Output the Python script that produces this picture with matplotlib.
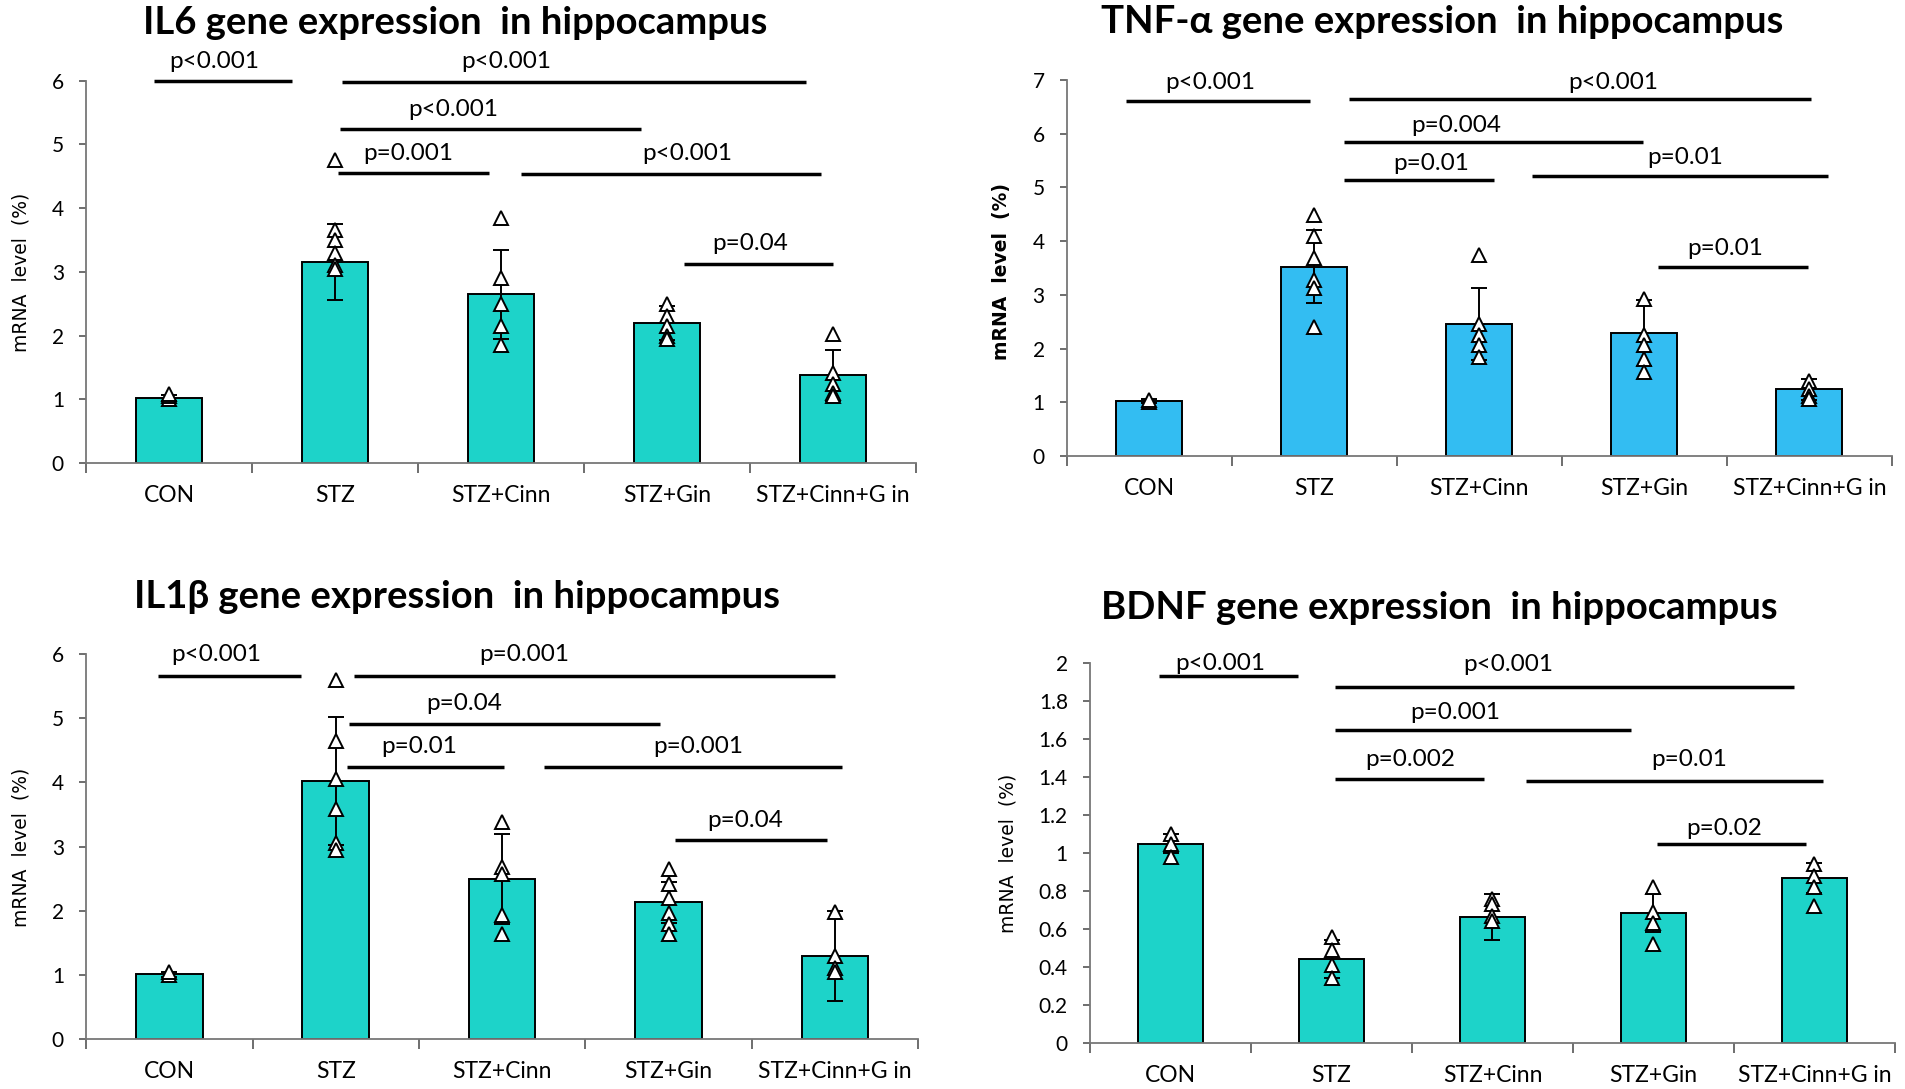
import numpy as np
import matplotlib
matplotlib.use("Agg")
import matplotlib.pyplot as plt

groups = ["CON", "STZ", "STZ+Cinn", "STZ+Gin", "STZ+Cinn+G in"]

# bar means, error (SD) and individual points per panel
il6_mean = [1.02, 3.15, 2.65, 2.20, 1.38]
il6_err = [0.04, 0.60, 0.70, 0.27, 0.40]
il6_pts = [[1.0, 1.05, 1.08], [4.75, 3.65, 3.5, 3.3, 3.1, 3.05],
           [3.85, 2.9, 2.5, 2.15, 1.85], [2.5, 2.3, 2.15, 2.0, 1.95],
           [2.03, 1.42, 1.24, 1.1, 1.05]]
# (x start, x end, y, label, label x, label y)
il6_sig = [(-0.09, 0.74, 6.0, "p<0.001", 0.27, 6.3),
           (1.04, 3.84, 5.97, "p<0.001", 2.03, 6.3),
           (1.03, 2.84, 5.24, "p<0.001", 1.71, 5.55),
           (1.02, 1.93, 4.55, "p=0.001", 1.44, 4.86),
           (2.12, 3.93, 4.54, "p<0.001", 3.12, 4.86),
           (3.10, 4.00, 3.13, "p=0.04", 3.50, 3.44)]

tnf_mean = [1.02, 3.52, 2.45, 2.29, 1.24]
tnf_err = [0.04, 0.68, 0.67, 0.62, 0.20]
tnf_pts = [[1.0, 1.05], [4.49, 4.09, 3.68, 3.28, 3.12, 2.4],
           [3.74, 2.46, 2.25, 2.06, 1.84], [2.93, 2.25, 2.06, 1.81, 1.56],
           [1.4, 1.25, 1.12, 1.06]]
tnf_sig = [(-0.14, 0.97, 6.61, "p<0.001", 0.37, 6.95),
           (1.21, 4.01, 6.64, "p<0.001", 2.81, 6.95),
           (1.18, 2.99, 5.85, "p=0.004", 1.86, 6.15),
           (1.18, 2.09, 5.13, "p=0.01", 1.71, 5.45),
           (2.32, 4.11, 5.21, "p=0.01", 3.25, 5.55),
           (3.08, 3.99, 3.51, "p=0.01", 3.49, 3.87)]

il1b_mean = [1.01, 4.02, 2.50, 2.13, 1.30]
il1b_err = [0.04, 1.00, 0.70, 0.32, 0.70]
il1b_pts = [[1.0, 1.05], [5.6, 4.64, 4.06, 3.58, 3.05, 2.94],
            [3.39, 2.68, 2.57, 1.93, 1.64], [2.65, 2.41, 2.2, 1.96, 1.8, 1.64],
            [1.98, 1.29, 1.1, 1.05]]
il1b_sig = [(-0.07, 0.79, 5.66, "p<0.001", 0.28, 6.0),
            (1.11, 4.00, 5.66, "p=0.001", 2.13, 6.0),
            (1.08, 2.95, 4.91, "p=0.04", 1.77, 5.23),
            (1.07, 2.01, 4.24, "p=0.01", 1.50, 4.56),
            (2.25, 4.04, 4.24, "p=0.001", 3.18, 4.56),
            (3.04, 3.95, 3.10, "p=0.04", 3.46, 3.41)]

bdnf_mean = [1.05, 0.44, 0.665, 0.687, 0.869]
bdnf_err = [0.05, 0.10, 0.12, 0.10, 0.08]
bdnf_pts = [[1.1, 1.05, 0.98], [0.56, 0.49, 0.41, 0.34],
            [0.76, 0.73, 0.67, 0.64], [0.82, 0.69, 0.63, 0.52],
            [0.94, 0.88, 0.82, 0.72]]
bdnf_sig = [(-0.07, 0.79, 1.93, "p<0.001", 0.31, 2.0),
            (1.02, 3.87, 1.874, "p<0.001", 2.10, 1.99),
            (1.02, 2.86, 1.65, "p=0.001", 1.77, 1.74),
            (1.02, 1.95, 1.39, "p=0.002", 1.49, 1.49),
            (2.21, 4.05, 1.38, "p=0.01", 3.22, 1.49),
            (3.02, 3.95, 1.05, "p=0.02", 3.44, 1.13)]

TEAL = "#1dd3c9"
BLUE = "#33bdf2"

plt.rcParams["font.family"] = ["Lato", "DejaVu Sans"]


def draw_panel(ax, mean, err, pts, sig, color, ymax, ystep, fmt):
    x = np.arange(len(groups))
    ax.bar(x, mean, width=0.4, color=color, edgecolor="black", linewidth=1.4, zorder=2)
    ax.errorbar(x, mean, yerr=err, fmt="none", ecolor="black", elinewidth=1.4,
                capsize=6, capthick=1.4, zorder=3)
    for i, p in enumerate(pts):
        ax.plot([i] * len(p), p, linestyle="none", marker="^", markersize=10.5,
                markerfacecolor="white", markeredgecolor="black",
                markeredgewidth=1.4, zorder=4)
    for x0, x1, y, lab, tx, ty in sig:
        ax.plot([x0, x1], [y, y], color="black", lw=2.5, clip_on=False,
                solid_capstyle="butt", zorder=5)
        ax.text(tx, ty, lab, ha="center", va="center", fontsize=17.5,
                clip_on=False)

    ax.set_xlim(-0.5, len(groups) - 0.5)
    ax.set_ylim(0, ymax)
    ticks = np.arange(0, ymax + ystep / 2, ystep)
    ax.set_yticks(ticks)
    ax.set_yticklabels([fmt(t) for t in ticks], fontsize=15)
    ax.set_xticks(x)
    ax.set_xticklabels(groups, fontsize=16.5)
    ax.set_xticks(np.arange(-0.5, len(groups)), minor=True)
    ax.tick_params(axis="x", which="major", length=0, pad=16)
    ax.tick_params(axis="x", which="minor", length=7, color="#555555", width=1.2)
    ax.tick_params(axis="y", length=5, color="#555555", width=1.2, pad=11)
    for s in ("top", "right"):
        ax.spines[s].set_visible(False)
    for s in ("left", "bottom"):
        ax.spines[s].set_color("#777777")
        ax.spines[s].set_linewidth(1.3)


fig = plt.figure(figsize=(19.06, 10.89), dpi=100)

ax1 = fig.add_axes([0.0452, 0.5748, 0.4354, 0.3512])
draw_panel(ax1, il6_mean, il6_err, il6_pts, il6_sig, TEAL, 6, 1, lambda t: f"{t:g}")
ax2 = fig.add_axes([0.5598, 0.5813, 0.4328, 0.3453])
draw_panel(ax2, tnf_mean, tnf_err, tnf_pts, tnf_sig, BLUE, 7, 1, lambda t: f"{t:g}")
ax3 = fig.add_axes([0.0452, 0.0459, 0.4365, 0.3535])
draw_panel(ax3, il1b_mean, il1b_err, il1b_pts, il1b_sig, TEAL, 6, 1, lambda t: f"{t:g}")
ax4 = fig.add_axes([0.5719, 0.0422, 0.4223, 0.3489])
draw_panel(ax4, bdnf_mean, bdnf_err, bdnf_pts, bdnf_sig, TEAL, 2, 0.2, lambda t: f"{round(t, 1):g}")

titles = [("IL6 gene expression  in hippocampus", 455, 23),
          ("TNF-α gene expression  in hippocampus", 1442, 22),
          ("IL1β gene expression  in hippocampus", 457, 597),
          ("BDNF gene expression  in hippocampus", 1439, 608)]
for t, px, py in titles:
    fig.text(px / 1906, 1 - py / 1089, t, ha="center", va="center",
             fontsize=27.5, fontweight="bold")

ylabels = [(21, 272, "normal"), (1002, 272, "bold"), (21, 847, "normal"), (1008, 853, "normal")]
for px, py, w in ylabels:
    fig.text(px / 1906, 1 - py / 1089, "mRNA  level  (%)",
             rotation=90, ha="center", va="center", fontsize=13.5, fontweight=w,
             family=["DejaVu Sans"])

fig.savefig("out.png", dpi=100)
